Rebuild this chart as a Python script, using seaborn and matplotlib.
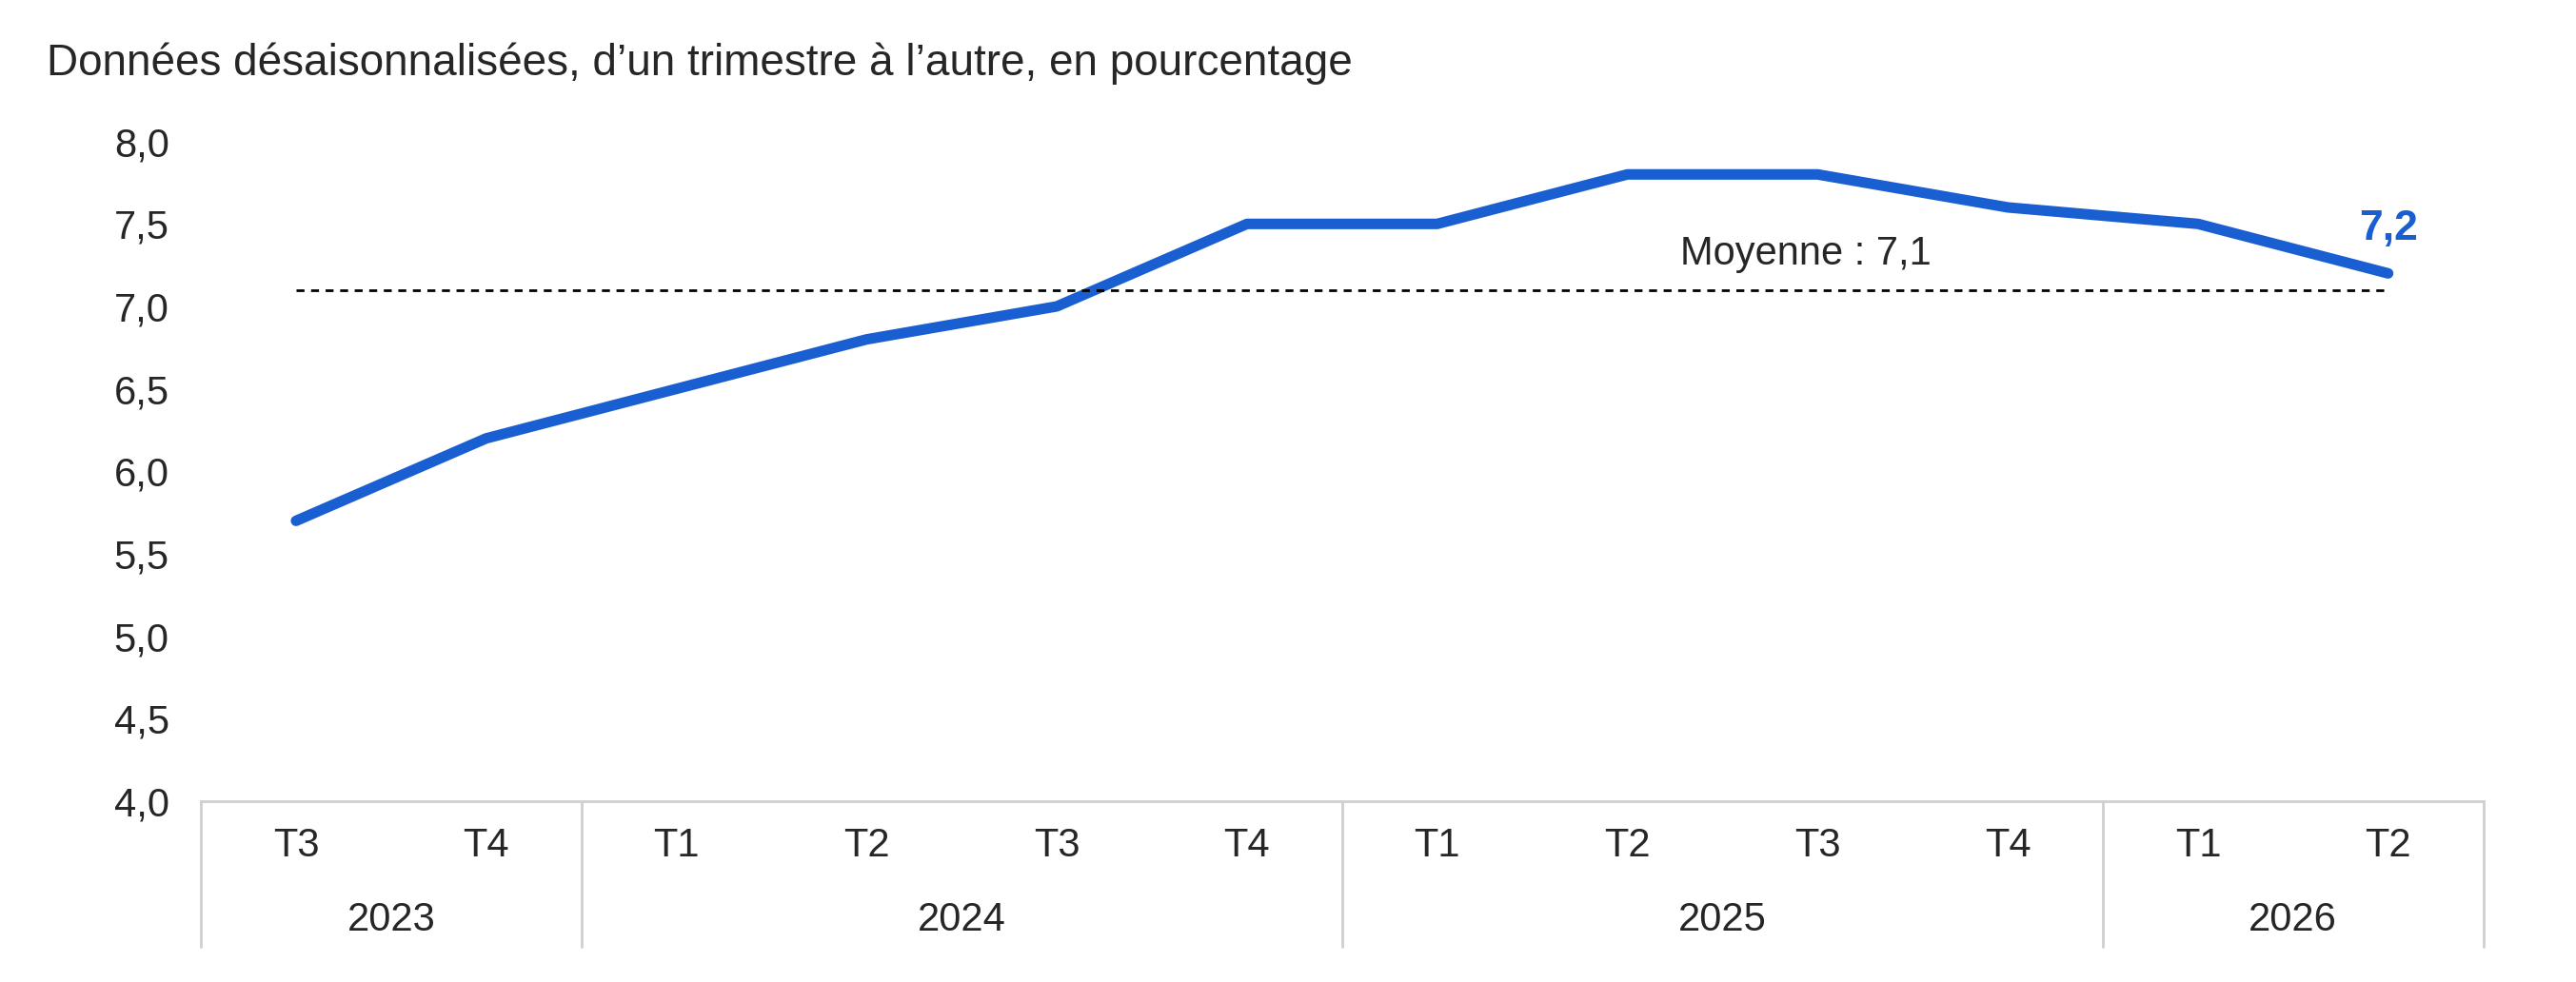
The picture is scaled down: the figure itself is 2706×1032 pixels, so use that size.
import matplotlib
matplotlib.use("Agg")
import matplotlib.pyplot as plt
import matplotlib.transforms as mtransforms
import seaborn as sns
import pandas as pd

quarters = ["T3", "T4", "T1", "T2", "T3", "T4", "T1", "T2", "T3", "T4", "T1", "T2"]
years = ["2023", "2024", "2025", "2026"]
year_spans = [(0, 1), (2, 5), (6, 9), (10, 11)]
values = [5.7, 6.2, 6.5, 6.8, 7.0, 7.5, 7.5, 7.8, 7.8, 7.6, 7.5, 7.2]
mean_value = 7.1

sns.set_style("white")
plt.rcParams['font.family'] = ['Liberation Sans', 'DejaVu Sans']

df = pd.DataFrame({"pos": range(len(values)), "val": values})
blue = "#1a5fd2"
grey = "#cfcfcf"
fs = 30

fig = plt.figure(figsize=(27.06, 10.32), dpi=100)
ax = fig.add_axes([0.078, 0.184, 0.886, 0.672])
sns.lineplot(data=df, x="pos", y="val", ax=ax, color=blue, linewidth=8,
             solid_capstyle="round")
ax.plot([0, 11], [mean_value, mean_value], ls=(0, (3, 2.5)), color="black", lw=2)
ax.text(7.94, mean_value + 0.1, "Moyenne : 7,1", fontsize=fs, ha="center", va="bottom")
ax.text(11.0, values[-1] + 0.15, "7,2", fontsize=fs + 2, color=blue,
        fontweight="bold", ha="center", va="bottom")

ax.set_xlim(-0.5, 11.5)
ax.set_ylim(4.0, 8.0)
ax.set_yticks([4.0 + 0.5 * i for i in range(9)])
ax.set_yticklabels([f"{4.0 + 0.5 * i:.1f}".replace(".", ",") for i in range(9)], fontsize=fs)
ax.set_xticks([])
ax.set_xlabel("")
ax.set_ylabel("")
for s in ["top", "right", "left"]:
    ax.spines[s].set_visible(False)
ax.spines["bottom"].set_color(grey)
ax.spines["bottom"].set_linewidth(2)
ax.tick_params(axis="y", length=0, pad=24)

trans = mtransforms.blended_transform_factory(ax.transData, ax.transAxes)
for i, q in enumerate(quarters):
    ax.text(i, -0.068, q, transform=trans, fontsize=fs, ha="center", va="center")
for y, (a, b) in zip(years, year_spans):
    ax.text((a + b) / 2, -0.18, y, transform=trans, fontsize=fs, ha="center", va="center")
for x in [-0.5, 1.5, 5.5, 9.5, 11.5]:
    ax.plot([x, x], [0, -0.22], transform=trans, color=grey, lw=2, clip_on=False)

fig.text(0.018, 0.935, "Données désaisonnalisées, d\u2019un trimestre à l\u2019autre, en pourcentage",
         fontsize=33, ha="left", va="center")

fig.savefig("out.png", dpi=100)
